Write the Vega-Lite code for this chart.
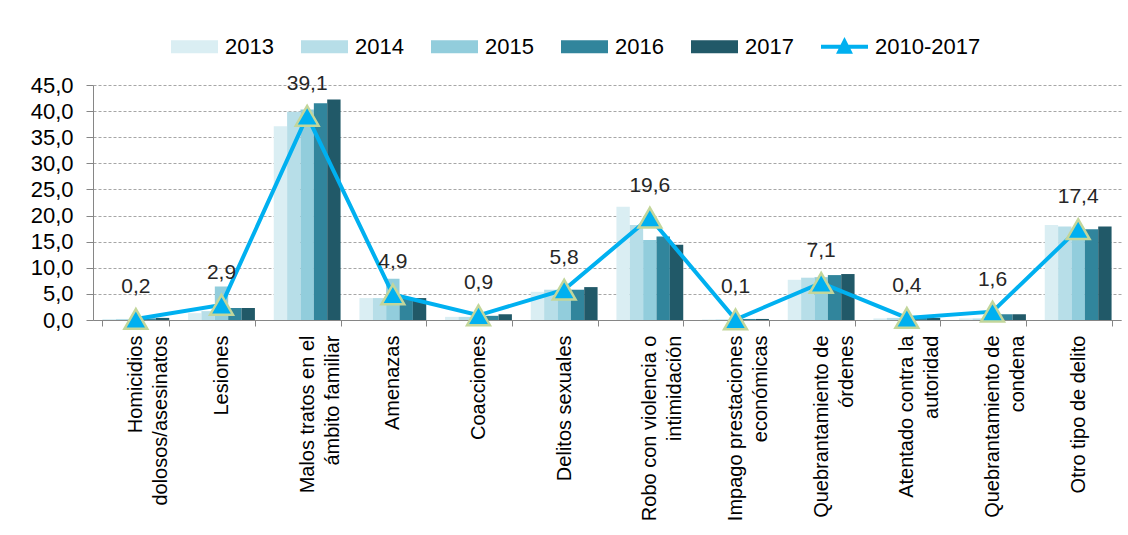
{
  "$schema": "https://vega.github.io/schema/vega-lite/v6.json",
  "width": 1028,
  "height": 235,
  "autosize": {"type": "none"},
  "padding": {"left": 93, "top": 85, "right": 7, "bottom": 215},
  "background": "white",
  "config": {
    "font": "Liberation Sans",
    "view": {"stroke": null},
    "locale": {"number": {"decimal": ",", "thousands": ".", "grouping": [3], "currency": ["", " €"]}}
  },
  "datasets": {
    "bars": [
      {"cat": "Homicidios|dolosos/asesinatos", "year": "2013", "v": 0.2},
      {"cat": "Homicidios|dolosos/asesinatos", "year": "2014", "v": 0.2},
      {"cat": "Homicidios|dolosos/asesinatos", "year": "2015", "v": 0.2},
      {"cat": "Homicidios|dolosos/asesinatos", "year": "2016", "v": 0.3},
      {"cat": "Homicidios|dolosos/asesinatos", "year": "2017", "v": 0.4},
      {"cat": "Lesiones", "year": "2013", "v": 1.3},
      {"cat": "Lesiones", "year": "2014", "v": 1.7},
      {"cat": "Lesiones", "year": "2015", "v": 6.4},
      {"cat": "Lesiones", "year": "2016", "v": 2.3},
      {"cat": "Lesiones", "year": "2017", "v": 2.3},
      {"cat": "Malos tratos en el|ámbito familiar", "year": "2013", "v": 37.1},
      {"cat": "Malos tratos en el|ámbito familiar", "year": "2014", "v": 39.9},
      {"cat": "Malos tratos en el|ámbito familiar", "year": "2015", "v": 40.3},
      {"cat": "Malos tratos en el|ámbito familiar", "year": "2016", "v": 41.5},
      {"cat": "Malos tratos en el|ámbito familiar", "year": "2017", "v": 42.2},
      {"cat": "Amenazas", "year": "2013", "v": 4.2},
      {"cat": "Amenazas", "year": "2014", "v": 4.2},
      {"cat": "Amenazas", "year": "2015", "v": 7.9},
      {"cat": "Amenazas", "year": "2016", "v": 4.2},
      {"cat": "Amenazas", "year": "2017", "v": 4.2},
      {"cat": "Coacciones", "year": "2013", "v": 0.6},
      {"cat": "Coacciones", "year": "2014", "v": 0.6},
      {"cat": "Coacciones", "year": "2015", "v": 0.7},
      {"cat": "Coacciones", "year": "2016", "v": 0.8},
      {"cat": "Coacciones", "year": "2017", "v": 1.1},
      {"cat": "Delitos sexuales", "year": "2013", "v": 5.4},
      {"cat": "Delitos sexuales", "year": "2014", "v": 5.8},
      {"cat": "Delitos sexuales", "year": "2015", "v": 5.8},
      {"cat": "Delitos sexuales", "year": "2016", "v": 5.8},
      {"cat": "Delitos sexuales", "year": "2017", "v": 6.3},
      {"cat": "Robo con violencia o|intimidación", "year": "2013", "v": 21.7},
      {"cat": "Robo con violencia o|intimidación", "year": "2014", "v": 18.2},
      {"cat": "Robo con violencia o|intimidación", "year": "2015", "v": 15.3},
      {"cat": "Robo con violencia o|intimidación", "year": "2016", "v": 16.0},
      {"cat": "Robo con violencia o|intimidación", "year": "2017", "v": 14.4},
      {"cat": "Impago prestaciones|económicas", "year": "2013", "v": 0.1},
      {"cat": "Impago prestaciones|económicas", "year": "2014", "v": 0.1},
      {"cat": "Impago prestaciones|económicas", "year": "2015", "v": 0.1},
      {"cat": "Impago prestaciones|económicas", "year": "2016", "v": 0.2},
      {"cat": "Impago prestaciones|económicas", "year": "2017", "v": 0.2},
      {"cat": "Quebrantamiento de|órdenes", "year": "2013", "v": 7.7},
      {"cat": "Quebrantamiento de|órdenes", "year": "2014", "v": 8.1},
      {"cat": "Quebrantamiento de|órdenes", "year": "2015", "v": 8.2},
      {"cat": "Quebrantamiento de|órdenes", "year": "2016", "v": 8.6},
      {"cat": "Quebrantamiento de|órdenes", "year": "2017", "v": 8.8},
      {"cat": "Atentado contra la|autoridad", "year": "2013", "v": 0.3},
      {"cat": "Atentado contra la|autoridad", "year": "2014", "v": 0.4},
      {"cat": "Atentado contra la|autoridad", "year": "2015", "v": 0.4},
      {"cat": "Atentado contra la|autoridad", "year": "2016", "v": 0.4},
      {"cat": "Atentado contra la|autoridad", "year": "2017", "v": 0.4},
      {"cat": "Quebrantamiento de|condena", "year": "2013", "v": 0.3},
      {"cat": "Quebrantamiento de|condena", "year": "2014", "v": 0.3},
      {"cat": "Quebrantamiento de|condena", "year": "2015", "v": 0.4},
      {"cat": "Quebrantamiento de|condena", "year": "2016", "v": 1.1},
      {"cat": "Quebrantamiento de|condena", "year": "2017", "v": 1.1},
      {"cat": "Otro tipo de delito", "year": "2013", "v": 18.2},
      {"cat": "Otro tipo de delito", "year": "2014", "v": 17.9},
      {"cat": "Otro tipo de delito", "year": "2015", "v": 17.5},
      {"cat": "Otro tipo de delito", "year": "2016", "v": 17.4},
      {"cat": "Otro tipo de delito", "year": "2017", "v": 17.9}
    ],
    "line": [
      {"cat": "Homicidios|dolosos/asesinatos", "v": 0.2},
      {"cat": "Lesiones", "v": 2.9},
      {"cat": "Malos tratos en el|ámbito familiar", "v": 39.1},
      {"cat": "Amenazas", "v": 4.9},
      {"cat": "Coacciones", "v": 0.9},
      {"cat": "Delitos sexuales", "v": 5.8},
      {"cat": "Robo con violencia o|intimidación", "v": 19.6},
      {"cat": "Impago prestaciones|económicas", "v": 0.1},
      {"cat": "Quebrantamiento de|órdenes", "v": 7.1},
      {"cat": "Atentado contra la|autoridad", "v": 0.4},
      {"cat": "Quebrantamiento de|condena", "v": 1.6},
      {"cat": "Otro tipo de delito", "v": 17.4}
    ]
  },
  "encoding": {
    "x": {
      "field": "cat",
      "type": "nominal",
      "sort": null,
      "title": null,
      "scale": {"paddingInner": 0.22, "paddingOuter": 0.11},
      "axis": {
        "labelAngle": -90,
        "labelAlign": "right",
        "labelBaseline": "middle",
        "labelExpr": "split(datum.label, '|')",
        "labelFontSize": 20,
        "labelLineHeight": 25,
        "labelColor": "#000000",
        "labelPadding": 9,
        "labelLimit": 300,
        "tickBand": "extent",
        "tickSize": 6,
        "tickColor": "#868686",
        "domainColor": "#868686",
        "grid": false
      }
    },
    "y": {
      "field": "v",
      "type": "quantitative",
      "title": null,
      "scale": {"domain": [0, 45], "nice": false},
      "axis": {
        "values": [0, 5, 10, 15, 20, 25, 30, 35, 40, 45],
        "format": ".1f",
        "labelFontSize": 22,
        "labelColor": "#000000",
        "labelPadding": 13,
        "tickSize": 7,
        "tickColor": "#868686",
        "domainColor": "#868686",
        "grid": true,
        "gridColor": "#A6A6A6",
        "gridDash": [3, 2],
        "gridWidth": 1
      }
    }
  },
  "layer": [
    {
      "data": {"name": "bars"},
      "mark": {"type": "bar"},
      "encoding": {
        "xOffset": {"field": "year", "type": "nominal", "scale": {"domain": ["2013", "2014", "2015", "2016", "2017"], "paddingInner": 0, "paddingOuter": 0}},
        "color": {
          "field": "year",
          "type": "nominal",
          "scale": {
            "domain": ["2013", "2014", "2015", "2016", "2017", "2010-2017"],
            "range": ["#DAEEF3", "#B7DEE8", "#92CDDC", "#31859C", "#215968", "#00B0F0"]
          },
          "legend": {
            "title": null,
            "orient": "none",
            "direction": "horizontal",
            "legendX": 78,
            "legendY": -62,
            "symbolSize": 2209,
            "symbolStrokeWidth": 0,
            "labelFontSize": 22,
            "labelColor": "#000000",
            "labelOffset": 7,
            "columnPadding": 27,
            "encode": {
              "symbols": {
                "update": {
                  "shape": {"signal": "datum.value === '2010-2017' ? 'M-1,-0.09H1V0.09H-1Z M0,-0.42L0.36,0.3H-0.36Z' : 'M-1,-0.28H1V0.28H-1Z'"}
                }
              }
            }
          }
        }
      }
    },
    {
      "data": {"name": "line"},
      "mark": {"type": "line", "color": "#00B0F0", "strokeWidth": 4},
      "encoding": {}
    },
    {
      "data": {"name": "line"},
      "mark": {"type": "point", "shape": "triangle-up", "filled": true, "fill": "#00B0F0", "stroke": "#C3D69B", "strokeWidth": 2.5, "size": 520, "opacity": 1},
      "encoding": {}
    },
    {
      "data": {"name": "line"},
      "mark": {"type": "text", "fontSize": 21, "color": "#262626", "baseline": "middle", "dy": -32},
      "encoding": {"text": {"field": "v", "type": "quantitative", "format": ".1f"}}
    }
  ]
}
